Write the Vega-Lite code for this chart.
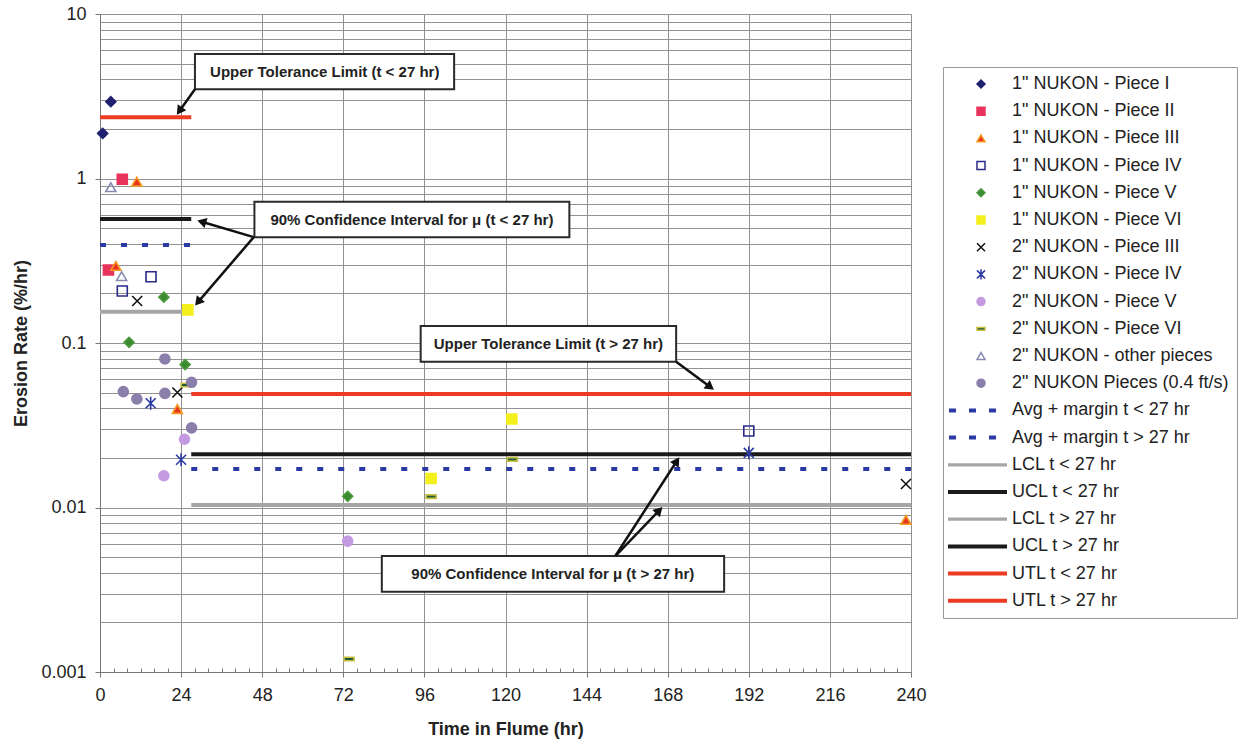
{
  "$schema": "https://vega.github.io/schema/vega-lite/v6.json",
  "width": 811,
  "height": 658,
  "autosize": {"type": "none"},
  "padding": {"left": 100, "top": 14, "right": 335, "bottom": 71},
  "background": "white",
  "config": {
    "view": {"stroke": null},
    "font": "Liberation Sans",
    "axis": {
      "labelFont": "Liberation Sans",
      "labelFontSize": 18,
      "labelColor": "#222222",
      "titleFont": "Liberation Sans",
      "titleFontSize": 18,
      "titleFontWeight": "bold",
      "titleColor": "#222222",
      "gridColor": "#929292",
      "gridWidth": 1,
      "domainColor": "#777777",
      "tickColor": "#777777"
    },
    "legend": {
      "orient": "none",
      "legendX": 843,
      "legendY": 53,
      "strokeColor": "#999999",
      "fillColor": "white",
      "padding": 8,
      "rowPadding": 9.2,
      "symbolSize": 64,
      "symbolStrokeWidth": 1.5,
      "symbolOffset": 21,
      "labelOffset": 22,
      "labelFont": "Liberation Sans",
      "labelFontSize": 18,
      "labelColor": "#222222",
      "labelLimit": 300
    }
  },
  "datasets": {
    "points": [
      {"series": "1\" NUKON - Piece I", "t": 0.8, "rate": 1.88},
      {"series": "1\" NUKON - Piece I", "t": 3.2, "rate": 2.93},
      {"series": "1\" NUKON - Piece II", "t": 2.5, "rate": 0.278},
      {"series": "1\" NUKON - Piece II", "t": 6.6, "rate": 0.99},
      {"series": "1\" NUKON - Piece III", "t": 4.7, "rate": 0.294},
      {"series": "1\" NUKON - Piece III", "t": 10.9, "rate": 0.957},
      {"series": "1\" NUKON - Piece III", "t": 22.9, "rate": 0.0397},
      {"series": "1\" NUKON - Piece III", "t": 238.5, "rate": 0.0084},
      {"series": "1\" NUKON - Piece IV", "t": 6.6, "rate": 0.207},
      {"series": "1\" NUKON - Piece IV", "t": 15.1, "rate": 0.253},
      {"series": "1\" NUKON - Piece IV", "t": 192, "rate": 0.0292},
      {"series": "1\" NUKON - Piece V", "t": 8.6, "rate": 0.101},
      {"series": "1\" NUKON - Piece V", "t": 18.9, "rate": 0.19},
      {"series": "1\" NUKON - Piece V", "t": 25.2, "rate": 0.074},
      {"series": "1\" NUKON - Piece V", "t": 73.3, "rate": 0.0117},
      {"series": "1\" NUKON - Piece VI", "t": 26, "rate": 0.159},
      {"series": "1\" NUKON - Piece VI", "t": 98, "rate": 0.015},
      {"series": "1\" NUKON - Piece VI", "t": 121.9, "rate": 0.0345},
      {"series": "2\" NUKON - Piece III", "t": 11, "rate": 0.18},
      {"series": "2\" NUKON - Piece III", "t": 22.9, "rate": 0.05},
      {"series": "2\" NUKON - Piece III", "t": 238.5, "rate": 0.0139},
      {"series": "2\" NUKON - Piece IV", "t": 15, "rate": 0.043},
      {"series": "2\" NUKON - Piece IV", "t": 24, "rate": 0.0195},
      {"series": "2\" NUKON - Piece IV", "t": 192, "rate": 0.0215},
      {"series": "2\" NUKON - Piece V", "t": 25, "rate": 0.026},
      {"series": "2\" NUKON - Piece V", "t": 18.9, "rate": 0.0156},
      {"series": "2\" NUKON - Piece V", "t": 73.3, "rate": 0.00625},
      {"series": "2\" NUKON - Piece VI", "t": 25.5, "rate": 0.0556},
      {"series": "2\" NUKON - Piece VI", "t": 73.7, "rate": 0.0012},
      {"series": "2\" NUKON - Piece VI", "t": 98, "rate": 0.01164},
      {"series": "2\" NUKON - Piece VI", "t": 122, "rate": 0.0196},
      {"series": "2\" NUKON - other pieces", "t": 3.2, "rate": 0.885},
      {"series": "2\" NUKON - other pieces", "t": 6.4, "rate": 0.255},
      {"series": "2\" NUKON Pieces (0.4 ft/s)", "t": 6.9, "rate": 0.0506},
      {"series": "2\" NUKON Pieces (0.4 ft/s)", "t": 10.9, "rate": 0.0457},
      {"series": "2\" NUKON Pieces (0.4 ft/s)", "t": 19.2, "rate": 0.0494},
      {"series": "2\" NUKON Pieces (0.4 ft/s)", "t": 19.2, "rate": 0.08},
      {"series": "2\" NUKON Pieces (0.4 ft/s)", "t": 27.1, "rate": 0.0577},
      {"series": "2\" NUKON Pieces (0.4 ft/s)", "t": 27.1, "rate": 0.0305}
    ],
    "lines": [
      {"series": "Avg + margin t < 27 hr", "t0": 0, "t1": 27, "rate": 0.394},
      {"series": "Avg + margin t > 27 hr", "t0": 27, "t1": 240, "rate": 0.01714},
      {"series": "LCL t < 27 hr", "t0": 0, "t1": 27, "rate": 0.155},
      {"series": "UCL t < 27 hr", "t0": 0, "t1": 27, "rate": 0.567},
      {"series": "LCL t > 27 hr", "t0": 27, "t1": 240, "rate": 0.01035},
      {"series": "UCL t > 27 hr", "t0": 27, "t1": 240, "rate": 0.0211},
      {"series": "UTL t < 27 hr", "t0": 0, "t1": 27, "rate": 2.36},
      {"series": "UTL t > 27 hr", "t0": 27, "t1": 240, "rate": 0.049}
    ],
    "notes": [
      {"label": "Upper Tolerance Limit (t < 27 hr)", "t0": 28.1, "t1": 104.8, "r0": 5.71, "r1": 3.49, "tc": 66.5, "rc": 4.46},
      {"label": "90% Confidence Interval for μ (t < 27 hr)", "t0": 45.7, "t1": 138.9, "r0": 0.723, "r1": 0.439, "tc": 92.3, "rc": 0.563},
      {"label": "Upper Tolerance Limit (t > 27 hr)", "t0": 94.9, "t1": 170.5, "r0": 0.1269, "r1": 0.077, "tc": 132.7, "rc": 0.0988},
      {"label": "90% Confidence Interval for μ (t > 27 hr)", "t0": 83.4, "t1": 184.7, "r0": 0.00507, "r1": 0.00308, "tc": 134, "rc": 0.00395}
    ],
    "arrows": [
      {"id": 1, "t": 28.1, "rate": 3.49, "t2": 23.5, "rate2": 2.57},
      {"id": 2, "t": 45.5, "rate": 0.44, "t2": 30.1, "rate2": 0.546},
      {"id": 3, "t": 45.5, "rate": 0.44, "t2": 29.0, "rate2": 0.1773},
      {"id": 4, "t": 170.5, "rate": 0.077, "t2": 180.6, "rate2": 0.054},
      {"id": 5, "t": 152.5, "rate": 0.00507, "t2": 170.7, "rate2": 0.01918},
      {"id": 6, "t": 152.5, "rate": 0.00507, "t2": 165.5, "rate2": 0.00962}
    ]
  },
  "layer": [
    {
      "data": {"name": "lines"},
      "mark": {"type": "rule", "strokeWidth": 4, "strokeCap": "butt"},
      "encoding": {
        "x": {
          "field": "t0", "type": "quantitative",
          "scale": {"domain": [0, 240], "nice": false, "zero": false},
          "axis": {
            "title": "Time in Flume (hr)",
            "values": [0,4,8,12,16,20,24,28,32,36,40,44,48,52,56,60,64,68,72,76,80,84,88,92,96,100,104,108,112,116,120,124,128,132,136,140,144,148,152,156,160,164,168,172,176,180,184,188,192,196,200,204,208,212,216,220,224,228,232,236,240],
            "tickCount": 1000,
            "format": "d",
            "labelExpr": "datum.value % 24 === 0 ? datum.label : ''",
            "labelOverlap": false,
            "labelFlush": false,
            "gridOpacity": {"condition": {"test": "datum.value % 24 === 0", "value": 1}, "value": 0},
            "tickSize": {"condition": {"test": "datum.value % 24 === 0", "value": 5}, "value": -4},
            "labelPadding": 9,
            "titlePadding": 16
          }
        },
        "x2": {"field": "t1"},
        "y": {
          "field": "rate", "type": "quantitative",
          "scale": {"type": "log", "domain": [0.001, 10], "nice": false},
          "axis": {
            "title": "Erosion Rate (%/hr)",
            "values": [0.001,0.002,0.003,0.004,0.005,0.006,0.007,0.008,0.009,0.01,0.02,0.03,0.04,0.05,0.06,0.07,0.08,0.09,0.1,0.2,0.3,0.4,0.5,0.6,0.7,0.8,0.9,1,2,3,4,5,6,7,8,9,10],
            "tickCount": 1000,
            "format": "~g",
            "labelExpr": "indexof([0.001,0.01,0.1,1,10], datum.value) >= 0 ? datum.label : ''",
            "tickOpacity": {"condition": {"test": "indexof([0.001,0.01,0.1,1,10], datum.value) >= 0", "value": 1}, "value": 0},
            "labelOverlap": false,
            "labelPadding": 9,
            "titlePadding": 10
          }
        },
        "color": {
          "field": "series", "type": "nominal", "legend": null,
          "scale": {
            "domain": ["Avg + margin t < 27 hr","Avg + margin t > 27 hr","LCL t < 27 hr","UCL t < 27 hr","LCL t > 27 hr","UCL t > 27 hr","UTL t < 27 hr","UTL t > 27 hr"],
            "range": ["#2a3aa0","#2a3aa0","#a6a6a6","#1a1a1a","#a6a6a6","#1a1a1a","#ee3b24","#ee3b24"]
          }
        },
        "strokeDash": {
          "field": "series", "type": "nominal", "legend": null,
          "scale": {
            "domain": ["Avg + margin t < 27 hr","Avg + margin t > 27 hr","LCL t < 27 hr","UCL t < 27 hr","LCL t > 27 hr","UCL t > 27 hr","UTL t < 27 hr","UTL t > 27 hr"],
            "range": [[6,15],[6,15],[1,0],[1,0],[1,0],[1,0],[1,0],[1,0]]
          }
        }
      }
    },
    {
      "data": {"name": "points"},
      "mark": {"type": "point", "size": 100, "strokeWidth": 1.6, "opacity": 1},
      "encoding": {
        "x": {"field": "t", "type": "quantitative"},
        "y": {"field": "rate", "type": "quantitative"},
        "shape": {
          "field": "series", "type": "nominal", "legend": {"title": null},
          "scale": {
            "domain": ["1\" NUKON - Piece I","1\" NUKON - Piece II","1\" NUKON - Piece III","1\" NUKON - Piece IV","1\" NUKON - Piece V","1\" NUKON - Piece VI","2\" NUKON - Piece III","2\" NUKON - Piece IV","2\" NUKON - Piece V","2\" NUKON - Piece VI","2\" NUKON - other pieces","2\" NUKON Pieces (0.4 ft/s)","Avg + margin t < 27 hr","Avg + margin t > 27 hr","LCL t < 27 hr","UCL t < 27 hr","LCL t > 27 hr","UCL t > 27 hr","UTL t < 27 hr","UTL t > 27 hr"],
            "range": ["diamond","square","triangle-up","square","diamond","square","M-1,-1L1,1M1,-1L-1,1","M-1,-1L1,1M1,-1L-1,1M0,-1.3V1.3","circle","M-1,-0.35H1V0.35H-1Z","triangle-up","circle",
              "M-8,-0.5H-6.25V0.5H-8Z M-3,-0.5H-1.25V0.5H-3Z M2,-0.5H3.75V0.5H2Z",
              "M-8,-0.5H-6.25V0.5H-8Z M-3,-0.5H-1.25V0.5H-3Z M2,-0.5H3.75V0.5H2Z",
              "M-8.25,-0.4H6.5V0.4H-8.25Z","M-8.25,-0.5H6.5V0.5H-8.25Z","M-8.25,-0.4H6.5V0.4H-8.25Z","M-8.25,-0.5H6.5V0.5H-8.25Z","M-8.25,-0.5H6.5V0.5H-8.25Z","M-8.25,-0.5H6.5V0.5H-8.25Z"]
          }
        },
        "fill": {
          "field": "series", "type": "nominal", "legend": {"title": null},
          "scale": {
            "domain": ["1\" NUKON - Piece I","1\" NUKON - Piece II","1\" NUKON - Piece III","1\" NUKON - Piece IV","1\" NUKON - Piece V","1\" NUKON - Piece VI","2\" NUKON - Piece III","2\" NUKON - Piece IV","2\" NUKON - Piece V","2\" NUKON - Piece VI","2\" NUKON - other pieces","2\" NUKON Pieces (0.4 ft/s)","Avg + margin t < 27 hr","Avg + margin t > 27 hr","LCL t < 27 hr","UCL t < 27 hr","LCL t > 27 hr","UCL t > 27 hr","UTL t < 27 hr","UTL t > 27 hr"],
            "range": ["#1f2070","#e8335c","#e8331f","transparent","#3a8a33","#f4f01e","transparent","transparent","#c49ae0","#1e5a38","transparent","#8a7eaa","#2a3aa0","#2a3aa0","#a6a6a6","#1a1a1a","#a6a6a6","#1a1a1a","#ee3b24","#ee3b24"]
          }
        },
        "stroke": {
          "field": "series", "type": "nominal", "legend": {"title": null},
          "scale": {
            "domain": ["1\" NUKON - Piece I","1\" NUKON - Piece II","1\" NUKON - Piece III","1\" NUKON - Piece IV","1\" NUKON - Piece V","1\" NUKON - Piece VI","2\" NUKON - Piece III","2\" NUKON - Piece IV","2\" NUKON - Piece V","2\" NUKON - Piece VI","2\" NUKON - other pieces","2\" NUKON Pieces (0.4 ft/s)","Avg + margin t < 27 hr","Avg + margin t > 27 hr","LCL t < 27 hr","UCL t < 27 hr","LCL t > 27 hr","UCL t > 27 hr","UTL t < 27 hr","UTL t > 27 hr"],
            "range": ["#1f2070","#e8335c","#f59a22","#2a2a8a","#4a9a3a","#f4f01e","#111111","#2b3aa0","#c49ae0","#c8c040","#8888b0","#8a7eaa","transparent","transparent","transparent","transparent","transparent","transparent","transparent","transparent"]
          }
        }
      }
    },
    {
      "data": {"name": "notes"},
      "mark": {"type": "rect", "fill": "white", "stroke": "#2a2a2a", "strokeWidth": 2},
      "encoding": {
        "x": {"field": "t0", "type": "quantitative"},
        "x2": {"field": "t1"},
        "y": {"field": "r0", "type": "quantitative"},
        "y2": {"field": "r1"}
      }
    },
    {
      "data": {"name": "notes"},
      "mark": {"type": "text", "font": "Liberation Sans", "fontSize": 15, "fontWeight": "bold", "color": "#222222", "align": "center", "baseline": "middle"},
      "encoding": {
        "x": {"field": "tc", "type": "quantitative"},
        "y": {"field": "rc", "type": "quantitative"},
        "text": {"field": "label"}
      }
    },
    {
      "data": {"name": "arrows"},
      "mark": {"type": "rule", "strokeWidth": 2.5, "color": "#111111"},
      "encoding": {
        "x": {"field": "t", "type": "quantitative"},
        "y": {"field": "rate", "type": "quantitative"},
        "x2": {"field": "t2"},
        "y2": {"field": "rate2"}
      }
    },
    {
      "data": {"name": "arrows"},
      "mark": {"type": "point", "shape": "triangle-up", "filled": true, "size": 110, "color": "#111111", "opacity": 1},
      "encoding": {
        "x": {"field": "t2", "type": "quantitative"},
        "y": {"field": "rate2", "type": "quantitative"},
        "angle": {"field": "id", "type": "quantitative", "scale": {"domain": [1,2,3,4,5,6], "range": [215.1,286.7,219.4,126.6,33,44]}}
      }
    }
  ]
}
